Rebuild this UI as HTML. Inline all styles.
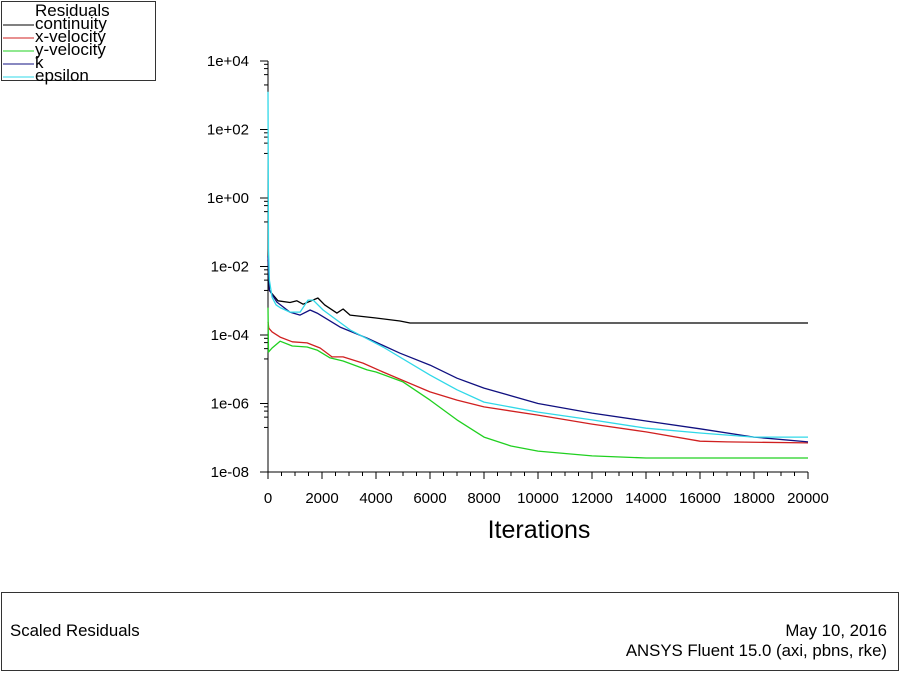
<!DOCTYPE html>
<html><head><meta charset="utf-8"><style>
body{margin:0;width:900px;height:675px;background:#fff;overflow:hidden;font-family:"Liberation Sans",sans-serif}
</style></head><body>
<svg id="chart" width="900" height="675" xmlns="http://www.w3.org/2000/svg" font-family="Liberation Sans, sans-serif">
<g>
<rect x="1.5" y="1.5" width="154" height="79" fill="#fff" stroke="#333"/>
<text x="35" y="16" font-size="17">Residuals</text>
</g>
<g id="legendEntries"></g>
<g id="axes"></g>
<g id="series"></g>
<text x="539" y="538" font-size="25" text-anchor="middle">Iterations</text>
<g>
<rect x="1.5" y="592.5" width="897" height="78" fill="none" stroke="#333"/>
<text x="10" y="636" font-size="16.8">Scaled Residuals</text>
<text x="887" y="636" font-size="16.8" text-anchor="end">May 10, 2016</text>
<text x="887" y="656" font-size="16.8" text-anchor="end">ANSYS Fluent 15.0 (axi, pbns, rke)</text>
</g>
</svg>
<script>
const names=["continuity","x-velocity","y-velocity","k","epsilon"];
const colors=["#000000","#d02020","#20d020","#101080","#30d8e8"];
const xTicks=[0,2000,4000,6000,8000,10000,12000,14000,16000,18000,20000];
const yTicks=[4,2,0,-2,-4,-6,-8];
const yTickLabels=["1e+04","1e+02","1e+00","1e-02","1e-04","1e-06","1e-08"];
const contIt=[0,50,370,815,1070,1300,1850,2100,2550,2780,3040,3960,4890,5260,20000];
const contV=[-1.8,-2.7,-3.0,-3.05,-3.0,-3.1,-2.92,-3.12,-3.36,-3.24,-3.42,-3.5,-3.59,-3.65,-3.65];
const xvIt=[0,30,150,450,900,1450,1930,2370,2780,3520,4260,6000,7000,8000,10000,12000,14000,16000,17000,20000];
const xvV=[-3.62,-3.8,-3.91,-4.06,-4.2,-4.23,-4.38,-4.64,-4.64,-4.82,-5.08,-5.66,-5.9,-6.1,-6.34,-6.6,-6.83,-7.1,-7.12,-7.15];
const yvIt=[0,20,150,450,900,1450,1820,2300,2780,3670,4000,5000,6000,7000,8000,9000,10000,12000,14000,20000];
const yvV=[-3.2,-4.5,-4.38,-4.18,-4.32,-4.35,-4.44,-4.67,-4.76,-5.02,-5.08,-5.37,-5.9,-6.48,-6.98,-7.24,-7.39,-7.53,-7.59,-7.59];
const kIt=[0,50,330,810,1190,1560,1820,2670,3670,4890,6000,7000,8000,10000,12000,14000,16000,18000,20000];
const kV=[-1.7,-2.69,-3.04,-3.33,-3.42,-3.27,-3.36,-3.77,-4.09,-4.53,-4.88,-5.26,-5.55,-6.0,-6.28,-6.51,-6.74,-6.98,-7.12];
const epIt=[0,20,50,150,300,450,810,1190,1480,1670,2040,3040,4260,6000,7000,8000,10000,12000,14000,16000,18000,20000];
const epV=[3.1,-1.5,-2.4,-2.9,-3.12,-3.2,-3.33,-3.33,-2.98,-2.98,-3.27,-3.85,-4.35,-5.17,-5.6,-5.96,-6.25,-6.48,-6.72,-6.86,-6.98,-6.98];
const seriesIt=[contIt,xvIt,yvIt,kIt,epIt];
const seriesV=[contV,xvV,yvV,kV,epV];
const NS="http://www.w3.org/2000/svg";
const X0=268,X1=808,Y0=61,Y1=472;
const xs=v=>X0+(v-0)/(20000-0)*(X1-X0);
const ys=v=>Y0+(4-v)/12*(Y1-Y0);
function mk(tag,attrs,parent){const e=document.createElementNS(NS,tag);for(const k in attrs)e.setAttribute(k,attrs[k]);parent.appendChild(e);return e;}
const axes=document.getElementById('axes');
const ax=mk('path',{d:`M${X0},${Y0}V${Y1}H${X1}`,stroke:'#000',fill:'none','stroke-width':1},axes);


yTicks.forEach((t,i)=>{
  const y=ys(t);
  const l=mk('line',{x1:X0-8,x2:X0,y1:y,y2:y,stroke:'#000'},axes);
  
  
  if(i<yTicks.length-1){for(let m=2;m<10;m+=2){const yy=ys(t-1+Math.log10(m));const mm=mk('line',{x1:X0-4,x2:X0,y1:yy,y2:yy,stroke:'#000'},axes);}}
  const tx=mk('text',{x:X0-19,y:y+5,'font-size':15,'text-anchor':'end'},axes);
  tx.textContent=yTickLabels[i];
  
  
});
xTicks.forEach(t=>{
  const x=xs(t);
  const l=mk('line',{x1:x,x2:x,y1:Y1,y2:Y1+7,stroke:'#000'},axes);
  
  
  for(let m=1;m<4&&t<20000;m++){const xx=xs(t+m*500);const mm=mk('line',{x1:xx,x2:xx,y1:Y1,y2:Y1+4,stroke:'#000'},axes);}
  const tx=mk('text',{x:x,y:Y1+31,'font-size':15,'text-anchor':'middle'},axes);
  tx.textContent=t;
  
  
});
const sg=document.getElementById('series');
seriesIt.forEach((its,s)=>{
  const d=its.map((it,i)=>(i?'L':'M')+xs(it).toFixed(1)+','+ys(seriesV[s][i]).toFixed(1)).join('');
  const p=mk('path',{d:d,stroke:colors[s],fill:'none','stroke-width':1.3,'stroke-linejoin':'round'},sg);
  
  
});
const lg=document.getElementById('legendEntries');
names.forEach((n,i)=>{
  const y=29+i*13;
  const l=mk('line',{x1:3,x2:34,y1:y-4,y2:y-4,stroke:colors[i]},lg);
  
  
  const t=mk('text',{x:35,y:y,'font-size':17},lg);
  t.textContent=n;
  
  
});
</script>
</body></html>
